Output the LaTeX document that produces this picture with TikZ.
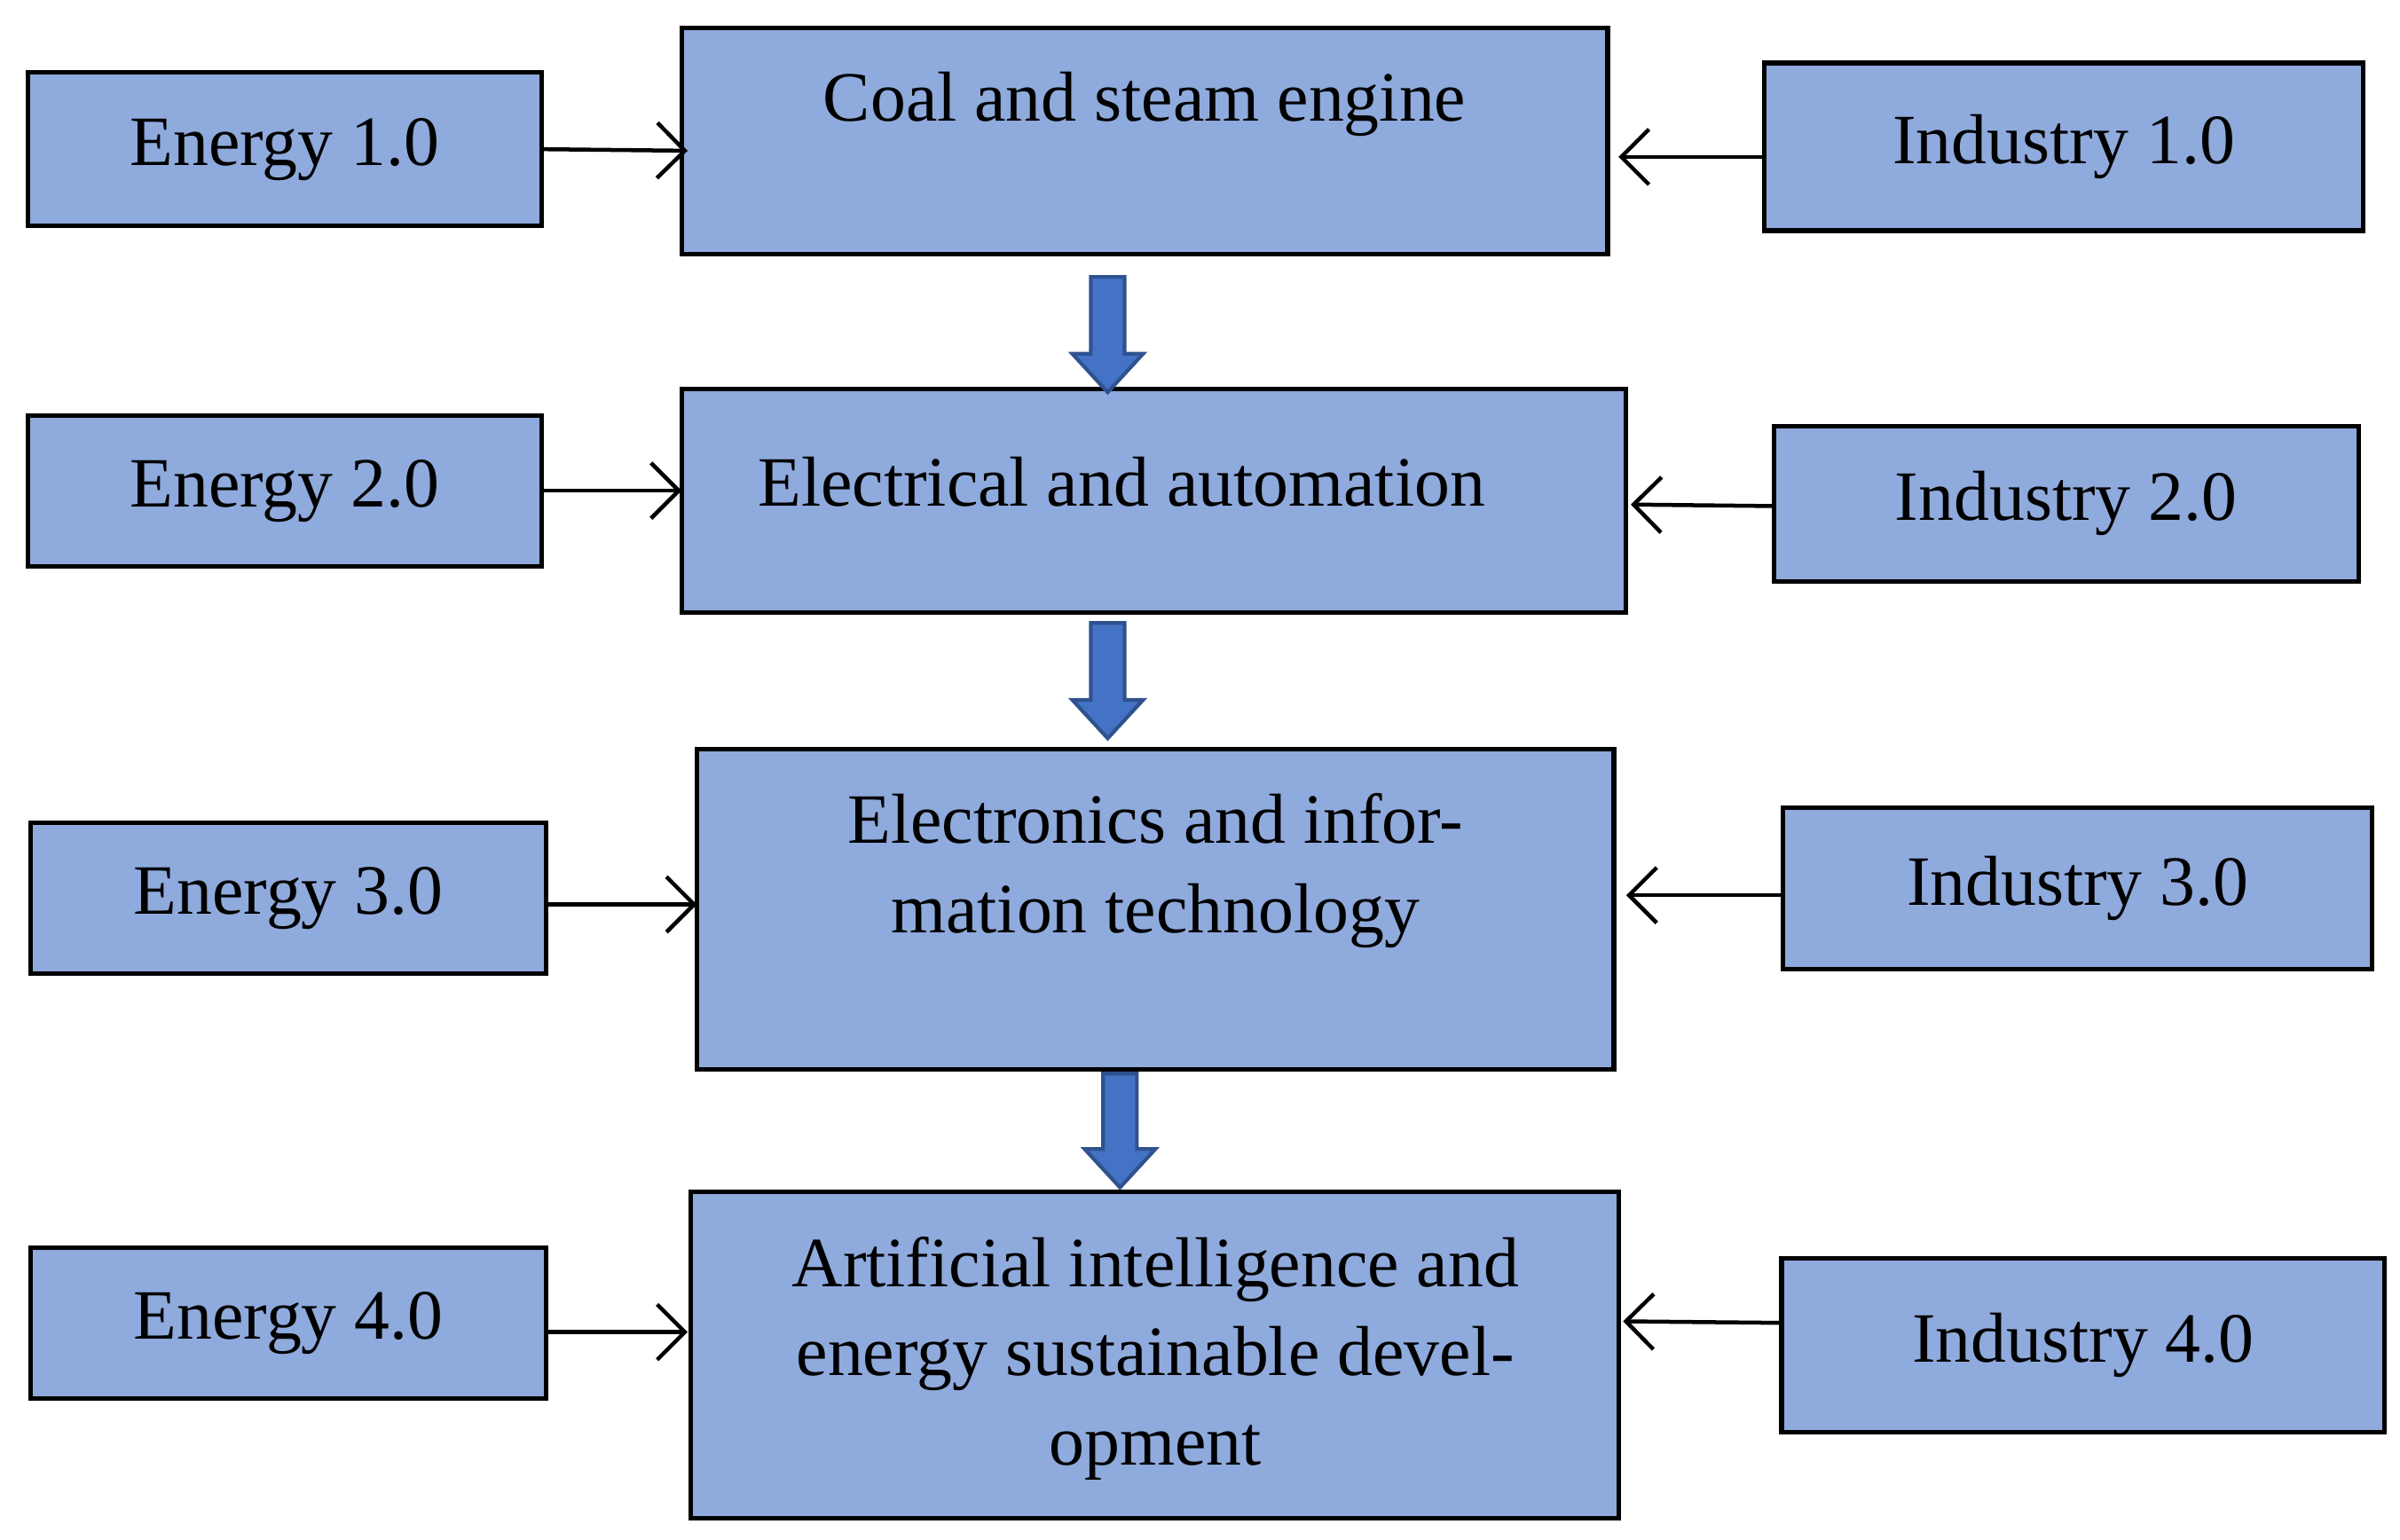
\documentclass[tikz,border=0pt]{standalone}
\usepackage{fontspec}
\setmainfont{Liberation Serif}
\usetikzlibrary{arrows.meta}
\begin{document}
\begin{tikzpicture}[x=0.5pt,y=-0.5pt,
  box/.style={draw=black,line width=1.5pt,fill=boxblue,inner sep=0pt},
  txt/.style={font=\fontsize{23}{29}\selectfont,align=center},
  thin/.style={line width=1.3pt,-{Straight Barb[length=9pt,width=18pt,line width=1.3pt]}},
  blk/.style={fill=arrblue,draw=arredge,line width=1.2pt}]
\definecolor{boxblue}{HTML}{8FAADC}
\definecolor{arrblue}{HTML}{4472C4}
\definecolor{arredge}{HTML}{2F528F}
\useasboundingbox (0,0) rectangle (1560,1000.6);
% side boxes
\def\sbox#1#2#3#4#5#6{\node[box,minimum width=#4*0.5pt-#2*0.5pt,minimum height=#5*0.5pt-#3*0.5pt,txt] (#1) at ({(#2+#4)/2},{(#3+#5)/2}) {#6};}
\sbox{e1}{18}{47}{352}{147}{Energy 1.0}
\sbox{e2}{18}{270}{352}{368}{Energy 2.0}
\sbox{e3}{20}{535}{355}{633}{Energy 3.0}
\sbox{e4}{20}{811}{355}{909}{Energy 4.0}
\sbox{i1}{1147}{41}{1536}{150}{Industry 1.0}
\sbox{i2}{1153}{277}{1533}{378}{Industry 2.0}
\sbox{i3}{1159}{525}{1542}{630}{Industry 3.0}
\sbox{i4}{1158}{818}{1550}{931}{Industry 4.0}
\sbox{c1}{443}{18}{1045}{165}{}
\sbox{c2}{443}{253}{1057}{398}{}
\sbox{c3}{453}{487}{1049}{695}{}
\sbox{c4}{449}{775}{1052}{987}{}
\node[txt] (t1) at (744,68) {Coal and steam engine};
\node[txt] (t2) at (729,313) {Electrical and automation};
\node[txt] (t3) at (751,566) {Electronics and infor-\\mation technology};
\node[txt] (t4) at (751,883) {Artificial intelligence and\\energy sustainable devel-\\opment};
% thin arrows
\draw[thin] (e1.east) -- (447,98);
\draw[thin] (e2.east) -- (443,319);
\draw[thin] (355,588) -- (453,588);
\draw[thin] (355,866) -- (447,866);
\draw[thin] (1147,102) -- (1052,102);
\draw[thin] (1153,329) -- (1060,328);
\draw[thin] (1159,582) -- (1057,582);
\draw[thin] (1158,860) -- (1055,859);
% block arrows
\def\barrow#1#2#3{\draw[blk] (#1-11,#2) -- (#1+11,#2) -- (#1+11,#3-25) -- (#1+23,#3-25) -- (#1,#3) -- (#1-23,#3-25) -- (#1-11,#3-25) -- cycle;}
\barrow{720}{180}{255}
\barrow{720}{405}{480}
\barrow{728}{698}{772}
\end{tikzpicture}
\end{document}
